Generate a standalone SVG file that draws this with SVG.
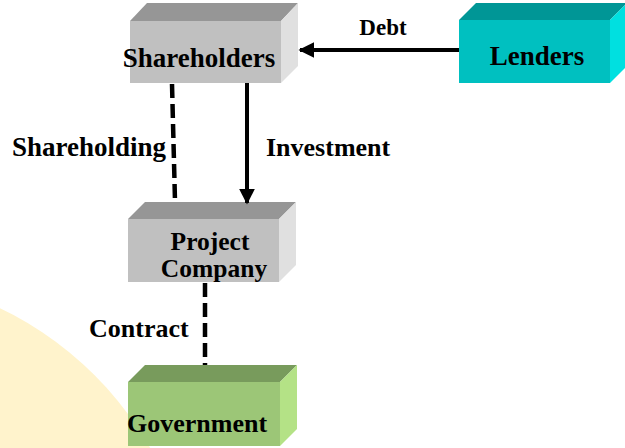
<svg xmlns="http://www.w3.org/2000/svg" width="625" height="448" viewBox="0 0 625 448">
<style>
.t{font-family:"Liberation Serif","Times New Roman",serif;font-weight:bold;fill:#000}
.l27{font-size:27px}
.l26{font-size:26px}
.solid{stroke:#000;stroke-width:4;fill:none}
.dash{stroke:#000;stroke-width:4.5;fill:none;stroke-dasharray:14 6}
.gf{fill:#c0c0c0}.gt{fill:#969696}.gr{fill:#e0e0e0}
.cf{fill:#00c0c0}.ct{fill:#009696}.cr{fill:#00e0e0}
.vf{fill:#9cc677}.vt{fill:#789b5c}.vr{fill:#b4e286}
</style>
<defs>
<marker id="ah" markerWidth="4" markerHeight="4" refX="3.6" refY="2" orient="auto" markerUnits="strokeWidth">
<path d="M0,0 L4,2 L0,4 z" fill="#000"/>
</marker>
</defs>
<rect width="625" height="448" fill="#fff"/>
<circle cx="-150" cy="620" r="346" fill="#fff3cc"/>

<g id="shareholders">
<polygon class="gt" points="130,21 147,3 298,3 281,21"/>
<polygon class="gr" points="281,21 298,3 298,66 281,83"/>
<rect class="gf" x="130" y="21" width="151" height="62"/>
<text class="t l27" x="199" y="67" text-anchor="middle">Shareholders</text>
</g>

<g id="lenders">
<polygon class="ct" points="459,20 476,3 627,3 610,20"/>
<polygon class="cr" points="610,20 627,3 627,66 610,83"/>
<rect class="cf" x="459" y="20" width="151" height="63"/>
<text class="t l27" x="537" y="65" text-anchor="middle">Lenders</text>
</g>

<g id="project-company">
<polygon class="gt" points="128,219 145,202 296,202 279,219"/>
<polygon class="gr" points="279,219 296,202 296,265 279,282"/>
<rect class="gf" x="128" y="219" width="151" height="63"/>
<text class="t" font-size="25.5" x="210" y="250" text-anchor="middle">Project</text>
<text class="t" font-size="25.5" x="214" y="277" text-anchor="middle">Company</text>
</g>

<g id="government">
<polygon class="vt" points="128,382 145,365 297,365 280,382"/>
<polygon class="vr" points="280,382 297,365 297,429 280,446"/>
<rect class="vf" x="128" y="382" width="152" height="64"/>
<text class="t l26" x="197" y="432" text-anchor="middle">Government</text>
</g>

<g id="connectors">
<line class="solid" x1="459" y1="50" x2="300" y2="50" marker-end="url(#ah)"/>
<line class="solid" x1="247" y1="83" x2="247" y2="203" marker-end="url(#ah)"/>
<line class="dash" x1="172" y1="84" x2="175" y2="201"/>
<line class="dash" x1="205" y1="283" x2="205" y2="365"/>
<text class="t" font-size="23" x="383" y="35" text-anchor="middle">Debt</text>
<text class="t l26" x="266" y="156">Investment</text>
<text class="t l27" x="12" y="156">Shareholding</text>
<text class="t l26" x="89" y="337">Contract</text>
</g>
</svg>
